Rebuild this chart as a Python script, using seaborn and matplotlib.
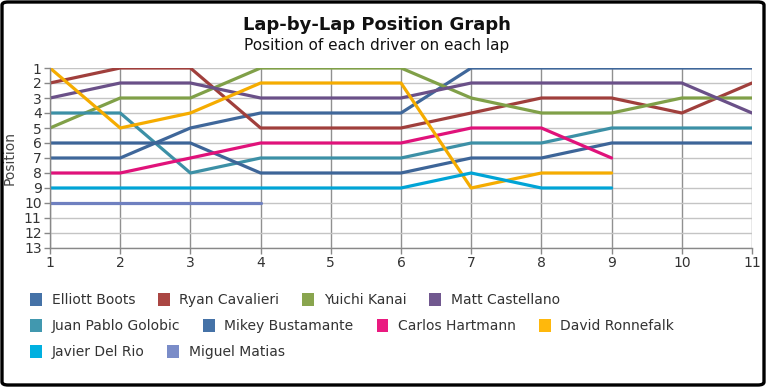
import matplotlib
matplotlib.use("Agg")
import matplotlib.pyplot as plt
from matplotlib.patches import Patch, FancyBboxPatch
import pandas as pd
import seaborn as sns

# --- Daten: Position je Fahrer und Runde ---------------------------------
DRIVERS = [
    "Elliott Boots", "Ryan Cavalieri", "Yuichi Kanai", "Matt Castellano",
    "Juan Pablo Golobic", "Mikey Bustamante", "Carlos Hartmann",
    "David Ronnefalk", "Javier Del Rio", "Miguel Matias",
]
elliott_boots = [7, 7, 5, 4, 4, 4, 1, 1, 1, 1, 1]
ryan_cavalieri = [2, 1, 1, 5, 5, 5, 4, 3, 3, 4, 2]
yuichi_kanai = [5, 3, 3, 1, 1, 1, 3, 4, 4, 3, 3]
matt_castellano = [3, 2, 2, 3, 3, 3, 2, 2, 2, 2, 4]
juan_pablo_golobic = [4, 4, 8, 7, 7, 7, 6, 6, 5, 5, 5]
mikey_bustamante = [6, 6, 6, 8, 8, 8, 7, 7, 6, 6, 6]
carlos_hartmann = [8, 8, 7, 6, 6, 6, 5, 5, 7]
david_ronnefalk = [1, 5, 4, 2, 2, 2, 9, 8, 8]
javier_del_rio = [9, 9, 9, 9, 9, 9, 8, 9, 9]
miguel_matias = [10, 10, 10, 10]

POSITIONS = [
    elliott_boots, ryan_cavalieri, yuichi_kanai, matt_castellano,
    juan_pablo_golobic, mikey_bustamante, carlos_hartmann,
    david_ronnefalk, javier_del_rio, miguel_matias,
]

LINE_COLORS = ["#3f679a", "#a03f3c", "#80a048", "#6a5088", "#3c90a6",
               "#3d6598", "#e0127a", "#f5ac00", "#00a4d6", "#6f80c0"]
LEGEND_COLORS = ["#4572a7", "#aa4643", "#89a54e", "#71588f", "#4198af",
                 "#4572a7", "#ea1a80", "#ffb80c", "#00b0e0", "#7a8cc8"]


def build_frame() -> pd.DataFrame:
    rows = []
    for name, pos in zip(DRIVERS, POSITIONS):
        for lap, p in enumerate(pos, start=1):
            rows.append({"lap": lap, "position": p, "driver": name})
    return pd.DataFrame(rows)


def main():
    df = build_frame()
    sns.set_theme(style="white")
    plt.rcParams["font.family"] = ["DejaVu Sans"]

    fig = plt.figure(figsize=(7.67, 3.87), dpi=100)
    ax = fig.add_axes([50 / 767, 1 - 248 / 387, 702 / 767, 180 / 387])

    sns.lineplot(data=df, x="lap", y="position", hue="driver",
                 hue_order=DRIVERS, palette=LINE_COLORS, estimator=None,
                 linewidth=2.3, legend=False, ax=ax)

    ax.set_xlim(1, 11)
    ax.set_ylim(13, 1)
    ax.set_xticks(range(1, 12))
    ax.set_yticks(range(1, 14))
    ax.tick_params(axis="both", labelsize=10, colors="#888888",
                   labelcolor="#333333", length=4, width=1, pad=2,
                   direction="out", left=True, bottom=True)
    ax.set_xlabel("")
    ax.set_ylabel("Position", fontsize=10, color="#444444", labelpad=5)

    ax.grid(axis="y", color="#c4c4c4", linewidth=1)
    ax.grid(axis="x", color="#909090", linewidth=1)
    ax.set_axisbelow(True)
    for side in ["top", "right"]:
        ax.spines[side].set_visible(False)
    for side in ["left", "bottom"]:
        ax.spines[side].set_color("#888888")
        ax.spines[side].set_linewidth(1)

    fig.text(0.4915, 1 - 25 / 387, "Lap-by-Lap Position Graph",
             ha="center", va="center", fontsize=13, fontweight="bold",
             color="#111111")
    fig.text(0.4915, 1 - 45.5 / 387, "Position of each driver on each lap",
             ha="center", va="center", fontsize=11, color="#111111")

    # Legende in drei Zeilen, fließend angeordnet
    handles = [Patch(facecolor=c, edgecolor="none") for c in LEGEND_COLORS]
    rows = [(0, 4, 300), (4, 8, 326), (8, 10, 352)]
    for start, stop, ypix in rows:
        leg = fig.legend(handles[start:stop], DRIVERS[start:stop],
                         loc="center left",
                         bbox_to_anchor=(30 / 767, 1 - ypix / 387),
                         ncol=stop - start, frameon=False, fontsize=10,
                         handlelength=0.85, handleheight=1.1,
                         handletextpad=0.7, columnspacing=1.65,
                         borderpad=0, borderaxespad=0)
        for t in leg.get_texts():
            t.set_color("#333333")

    frame = FancyBboxPatch((2 / 767, 2 / 387), 762 / 767, 383 / 387,
                           boxstyle="round,pad=0,rounding_size=0.008",
                           transform=fig.transFigure, fill=False,
                           edgecolor="black", linewidth=2.4, zorder=10)
    fig.patches.append(frame)

    fig.savefig("out.png", dpi=100)
    plt.close(fig)


if __name__ == "__main__":
    main()
